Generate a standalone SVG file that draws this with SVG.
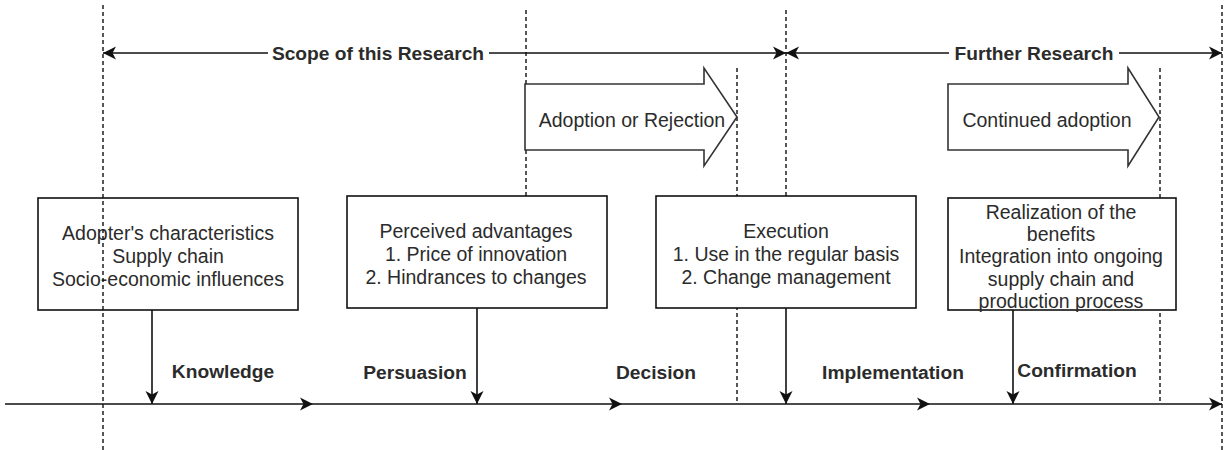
<svg xmlns="http://www.w3.org/2000/svg" width="1225" height="450" viewBox="0 0 1225 450">
  <style>
    .box { fill: #fff; stroke: #111; stroke-width: 1.6; }
    .block { fill: #fff; stroke: #333; stroke-width: 1.6; stroke-linejoin: miter; }
    .edge { fill: none; stroke: #111; stroke-width: 1.6; }
    .guide { fill: none; stroke: #111; stroke-width: 1.4; stroke-dasharray: 4 3; }
    .txt { font-family: "Liberation Sans", Arial, sans-serif; font-size: 19.5px; fill: #2b2b2b; text-anchor: middle; }
    .lbl { font-family: "Liberation Sans", Arial, sans-serif; font-size: 19.2px; font-weight: bold; fill: #2b2b2b; text-anchor: middle; }
  </style>
  <defs>
    <marker id="arrow" markerUnits="userSpaceOnUse" markerWidth="14" markerHeight="14" viewBox="0 -7 14 14" refX="13" refY="0" orient="auto-start-reverse">
      <path d="M0,-6.5 L13,0 L0,6.5 L3.5,0 Z" fill="#111"/>
    </marker>
  </defs>

  <rect width="1225" height="450" fill="#fff"/>

  <!-- phase guide lines behind the boxes -->
  <g id="guides-back">
    <line class="guide" x1="526" y1="10" x2="526" y2="200"/>
    <line class="guide" x1="786" y1="10" x2="786" y2="200"/>
    <line class="guide" x1="737" y1="68" x2="737" y2="404"/>
    <line class="guide" x1="1160" y1="68" x2="1160" y2="404"/>
    <line class="guide" x1="1222" y1="5" x2="1222" y2="450"/>
  </g>

  <g id="connectors">
    <!-- research scope spans -->
    <line class="edge" x1="103" y1="53" x2="786" y2="53" marker-start="url(#arrow)" marker-end="url(#arrow)"/>
    <line class="edge" x1="786" y1="53" x2="1222" y2="53" marker-start="url(#arrow)" marker-end="url(#arrow)"/>
    <!-- timeline -->
    <line class="edge" x1="5" y1="404" x2="313" y2="404" marker-end="url(#arrow)"/>
    <line class="edge" x1="313" y1="404" x2="622" y2="404" marker-end="url(#arrow)"/>
    <line class="edge" x1="622" y1="404" x2="930" y2="404" marker-end="url(#arrow)"/>
    <line class="edge" x1="930" y1="404" x2="1222" y2="404" marker-end="url(#arrow)"/>
    <!-- box to timeline -->
    <line class="edge" x1="152" y1="310" x2="152" y2="404" marker-end="url(#arrow)"/>
    <line class="edge" x1="477" y1="308" x2="477" y2="404" marker-end="url(#arrow)"/>
    <line class="edge" x1="786" y1="308" x2="786" y2="404" marker-end="url(#arrow)"/>
    <line class="edge" x1="1013" y1="310" x2="1013" y2="404" marker-end="url(#arrow)"/>
  </g>

  <g id="span-labels">
    <rect x="268" y="42" width="221" height="22" fill="#fff"/>
    <text class="lbl" x="378" y="60">Scope of this Research</text>
    <rect x="949" y="42" width="170" height="22" fill="#fff"/>
    <text class="lbl" x="1034" y="60">Further Research</text>
  </g>

  <g id="adoption-or-rejection">
    <path class="block" d="M525,84 L704,84 L704,68 L737,117 L704,166 L704,150 L525,150 Z"/>
    <text class="txt" x="632" y="127">Adoption or Rejection</text>
  </g>

  <g id="continued-adoption">
    <path class="block" d="M948,84 L1128,84 L1128,68 L1159,117 L1128,166 L1128,150 L948,150 Z"/>
    <text class="txt" x="1047" y="127">Continued adoption</text>
  </g>

  <g id="knowledge-box">
    <rect class="box" x="38" y="198" width="260" height="112"/>
    <text class="txt" x="168" y="240">Adopter's characteristics</text>
    <text class="txt" x="168" y="263">Supply chain</text>
    <text class="txt" x="168" y="286">Socio-economic influences</text>
  </g>

  <g id="persuasion-box">
    <rect class="box" x="347" y="196" width="260" height="112"/>
    <text class="txt" x="476" y="238">Perceived advantages</text>
    <text class="txt" x="476" y="261">1. Price of innovation</text>
    <text class="txt" x="476" y="284">2. Hindrances to changes</text>
  </g>

  <g id="implementation-box">
    <rect class="box" x="656" y="196" width="260" height="112"/>
    <text class="txt" x="786" y="238">Execution</text>
    <text class="txt" x="786" y="261">1. Use in the regular basis</text>
    <text class="txt" x="786" y="284">2. Change management</text>
  </g>

  <g id="confirmation-box">
    <rect class="box" x="948" y="198" width="228" height="112"/>
    <text class="txt" x="1061" y="218.5">Realization of the</text>
    <text class="txt" x="1061" y="240.5">benefits</text>
    <text class="txt" x="1061" y="263">Integration into ongoing</text>
    <text class="txt" x="1061" y="285.5">supply chain and</text>
    <text class="txt" x="1061" y="307.5">production process</text>
  </g>

  <!-- stage names along the timeline -->
  <g id="stage-labels">
    <text class="lbl" x="223" y="378">Knowledge</text>
    <text class="lbl" x="415" y="379">Persuasion</text>
    <text class="lbl" x="656" y="379">Decision</text>
    <text class="lbl" x="893" y="379">Implementation</text>
    <text class="lbl" x="1077" y="377">Confirmation</text>
  </g>

  <!-- start-of-scope guide drawn over the first box -->
  <g id="guides-front">
    <line class="guide" x1="103" y1="5" x2="103" y2="450"/>
  </g>
</svg>
